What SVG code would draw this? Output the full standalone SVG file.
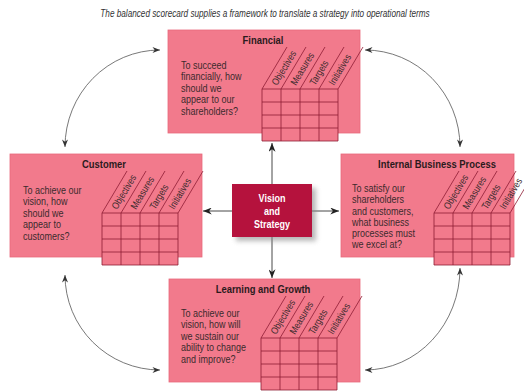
<svg xmlns="http://www.w3.org/2000/svg" width="524" height="392" viewBox="0 0 524 392">
<defs>
<style>
.box{fill:#f27a8c;stroke:#e8697c;stroke-width:0.8}
.cell{fill:#f27a8c}
.gl{stroke:#8e1c34;stroke-width:0.8;fill:none}
.f{font-family:"Liberation Sans",Arial,sans-serif}
.ttl{font-weight:bold;font-size:11.5px;fill:#2b1a1c;text-anchor:middle}
.q{font-size:11px;fill:#3b2a2c}
.hd{font-size:10px;fill:#3b2a2c}
.cap{font-size:10px;font-style:italic;fill:#333;text-anchor:middle}
.vs{font-weight:bold;font-size:11px;fill:#fff;text-anchor:middle}
.con{stroke:#333;stroke-width:0.9;fill:none;marker-start:url(#ah);marker-end:url(#ah)}
.arc{stroke:#555;stroke-width:0.8;fill:none;marker-start:url(#ah2);marker-end:url(#ah2)}
</style>
<marker id="ah" viewBox="0 0 10 8" refX="10" refY="4" markerWidth="9" markerHeight="7" orient="auto-start-reverse" markerUnits="userSpaceOnUse"><path d="M0,0 L10,4 L0,8 L3,4 Z" fill="#222"/></marker>
<marker id="ah2" viewBox="0 0 10 8" refX="10" refY="4" markerWidth="8" markerHeight="6" orient="auto-start-reverse" markerUnits="userSpaceOnUse"><path d="M0,0 L10,4 L0,8 L3,4 Z" fill="#333"/></marker>
<g id="grid">
<rect class="cell" x="0" y="0" width="76" height="52"/>
<path class="gl" d="M0,0V52M19,0V52M38,0V52M57,0V52M76,0V52M0,0H76M0,13H76M0,26H76M0,39H76M0,52H76M0,0l25,-42M19,0l25,-42M38,0l25,-42M57,0l25,-42M76,0l25,-42"/>
</g>
<filter id="sh" x="-30%" y="-30%" width="160%" height="160%"><feGaussianBlur stdDeviation="2.5"/></filter>
</defs>
<rect width="524" height="392" fill="#fff"/>
<text class="f cap" transform="translate(265,17) scale(0.82,1)">The balanced scorecard supplies a framework to translate a strategy into operational terms</text>

<g id="connectors">
<path class="con" d="M272,143V278"/>
<path class="con" d="M203,211H339"/>
<path class="arc" d="M65,147A95,97 0 0 1 160,50"/>
<path class="arc" d="M65,275A95,95 0 0 0 160,370"/>
<path class="arc" d="M365,50A95,97 0 0 1 460,147"/>
<path class="arc" d="M460,268A95,102 0 0 1 365,370"/>
</g>

<g id="financial" transform="translate(168,30)">
<rect class="box" x="0" y="0" width="192" height="103"/>
<text class="f ttl" transform="translate(95,14) scale(0.82,1)">Financial</text>
<text class="f q" transform="translate(13,39) scale(0.82,1)"><tspan x="0">To succeed</tspan><tspan x="0" dy="11.5">financially, how</tspan><tspan x="0" dy="11.5">should we</tspan><tspan x="0" dy="11.5">appear to our</tspan><tspan x="0" dy="11.5">shareholders?</tspan></text>
<g transform="translate(94,59)">
<use href="#grid"/>
<text class="f hd" transform="translate(15,-3) rotate(-59) scale(0.82,1)">Objectives</text>
<text class="f hd" transform="translate(34,-3) rotate(-59) scale(0.82,1)">Measures</text>
<text class="f hd" transform="translate(53,-3) rotate(-59) scale(0.82,1)">Targets</text>
<text class="f hd" transform="translate(72,-3) rotate(-59) scale(0.82,1)">Initiatives</text>
</g>
</g>

<g id="customer" transform="translate(10,154)">
<rect class="box" x="0" y="0" width="192" height="103"/>
<text class="f ttl" transform="translate(94,14) scale(0.82,1)">Customer</text>
<text class="f q" transform="translate(13,40) scale(0.82,1)"><tspan x="0">To achieve our</tspan><tspan x="0" dy="11.5">vision, how</tspan><tspan x="0" dy="11.5">should we</tspan><tspan x="0" dy="11.5">appear to</tspan><tspan x="0" dy="11.5">customers?</tspan></text>
<g transform="translate(92,59)">
<use href="#grid"/>
<text class="f hd" transform="translate(15,-3) rotate(-59) scale(0.82,1)">Objectives</text>
<text class="f hd" transform="translate(34,-3) rotate(-59) scale(0.82,1)">Measures</text>
<text class="f hd" transform="translate(53,-3) rotate(-59) scale(0.82,1)">Targets</text>
<text class="f hd" transform="translate(72,-3) rotate(-59) scale(0.82,1)">Initiatives</text>
</g>
</g>

<g id="internal" transform="translate(341,154)">
<rect class="box" x="0" y="0" width="173" height="103"/>
<text class="f ttl" transform="translate(96,14) scale(0.82,1)">Internal Business Process</text>
<text class="f q" transform="translate(11,38) scale(0.82,1)"><tspan x="0">To satisfy our</tspan><tspan x="0" dy="11.3">shareholders</tspan><tspan x="0" dy="11.3">and customers,</tspan><tspan x="0" dy="11.3">what business</tspan><tspan x="0" dy="11.3">processes must</tspan><tspan x="0" dy="11.3">we excel at?</tspan></text>
<g transform="translate(93,59)">
<use href="#grid"/>
<text class="f hd" transform="translate(15,-3) rotate(-59) scale(0.82,1)">Objectives</text>
<text class="f hd" transform="translate(34,-3) rotate(-59) scale(0.82,1)">Measures</text>
<text class="f hd" transform="translate(53,-3) rotate(-59) scale(0.82,1)">Targets</text>
<text class="f hd" transform="translate(71,-3) rotate(-59) scale(0.82,1)">Initiatives</text>
</g>
</g>

<g id="learning" transform="translate(169,279)">
<rect class="box" x="0" y="0" width="191" height="103"/>
<text class="f ttl" transform="translate(94,14) scale(0.82,1)">Learning and Growth</text>
<text class="f q" transform="translate(12,38) scale(0.82,1)"><tspan x="0">To achieve our</tspan><tspan x="0" dy="11.5">vision, how will</tspan><tspan x="0" dy="11.5">we sustain our</tspan><tspan x="0" dy="11.5">ability to change</tspan><tspan x="0" dy="11.5">and improve?</tspan></text>
<g transform="translate(92,59)">
<use href="#grid"/>
<text class="f hd" transform="translate(15,-3) rotate(-59) scale(0.82,1)">Objectives</text>
<text class="f hd" transform="translate(34,-3) rotate(-59) scale(0.82,1)">Measures</text>
<text class="f hd" transform="translate(53,-3) rotate(-59) scale(0.82,1)">Targets</text>
<text class="f hd" transform="translate(72,-3) rotate(-59) scale(0.82,1)">Initiatives</text>
</g>
</g>

<g id="vision">
<rect x="236" y="188" width="80" height="53" fill="#888" opacity="0.6" filter="url(#sh)"/>
<rect x="232" y="184" width="80" height="53" fill="#b5123d"/>
<text class="f vs" transform="translate(272,202) scale(0.82,1)">Vision</text>
<text class="f vs" transform="translate(272,215) scale(0.82,1)">and</text>
<text class="f vs" transform="translate(272,228) scale(0.82,1)">Strategy</text>
</g>
</svg>
